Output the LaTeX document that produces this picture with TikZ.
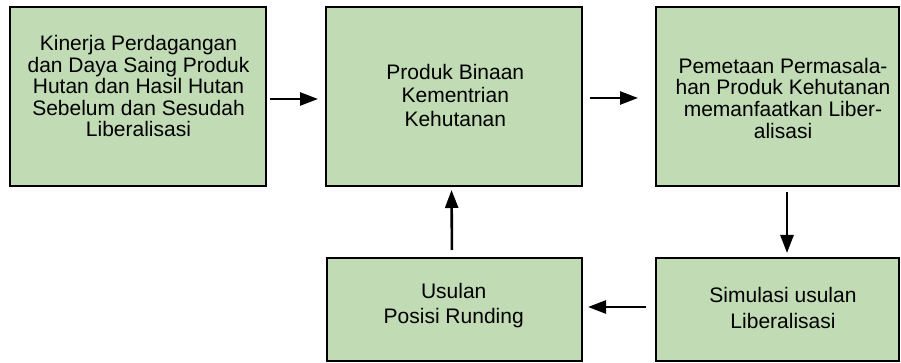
\documentclass[tikz,border=0pt]{standalone}
\usepackage{fontspec}
\setmainfont{Liberation Sans}
\usetikzlibrary{arrows.meta}
\definecolor{boxgreen}{RGB}{193,219,181}
\newcommand{\topst}{\rule{0pt}{16pt}}
\newcommand{\botst}{\rule[-6pt]{0pt}{6pt}}
\begin{document}
\begin{tikzpicture}[x=1pt,y=1pt,
  box/.style={draw=black, line width=2.4pt, fill=boxgreen, inner sep=0pt, outer sep=0pt},
  topbox/.style={box, minimum height=178.5pt},
  botbox/.style={box, minimum height=102.5pt},
  txt/.style={align=center, inner sep=0pt, outer sep=0pt, text=black},
  arr/.style={line width=2.6pt, -{Triangle[length=18pt,width=13pt]}}
]
\useasboundingbox (0,0) rectangle (901,363);
% boxes
\node[topbox, minimum width=255.5pt] (b1) at (138,266.5) {};
\node[topbox, minimum width=255.5pt] (b2) at (454,266.5) {};
\node[topbox, minimum width=242.5pt] (b3) at (777.5,266.5) {};
\node[botbox, minimum width=254.5pt] (b4) at (454.5,53.5) {};
\node[botbox, minimum width=242.5pt] (b5) at (777.5,53.5) {};
% texts
\node[txt, font=\fontsize{21}{21.5}\selectfont] (t1) at (138.5,274)
  {\topst Kinerja Perdagangan\\dan Daya Saing Produk\\Hutan dan Hasil Hutan\\Sebelum dan Sesudah\\Liberalisasi\botst};
\node[txt, font=\fontsize{21}{23.7}\selectfont] (t2) at (455.3,265)
  {\topst Produk Binaan\\Kementrian\\Kehutanan\botst};
\node[txt, font=\fontsize{21}{21.7}\selectfont] (t3) at (783,262.2)
  {\topst Pemetaan Permasala-\\han Produk Kehutanan\\memanfaatkan Liber-\\alisasi\botst};
\node[txt, font=\fontsize{21}{25}\selectfont] (t4) at (453.7,57.2)
  {\topst Usulan\\Posisi Runding\botst};
\node[txt, font=\fontsize{21}{25.6}\selectfont] (t5) at (783,52.5)
  {\topst Simulasi usulan\\Liberalisasi\botst};
% arrows
\draw[arr, shorten <=4.25pt, shorten >=8.25pt] ([yshift=-2.5pt]b1.east) -- ([yshift=-2.5pt]b2.west);
\draw[arr, shorten <=8.25pt, shorten >=18.25pt] ([yshift=-1.5pt]b2.east) -- ([yshift=-1.5pt]b3.west);
\draw[arr, shorten <=6.25pt, shorten >=5.25pt] ([xshift=9.5pt]b3.south) -- ([xshift=9.5pt]b5.north);
\draw[arr, shorten <=10.25pt, shorten >=6.25pt] ([yshift=2.5pt]b5.west) -- ([yshift=2.5pt]b4.east);
\draw[arr, shorten <=8.25pt, shorten >=4.25pt] ([xshift=-2.5pt]b4.north) -- ([xshift=-2.5pt]b2.south);
\end{tikzpicture}
\end{document}
